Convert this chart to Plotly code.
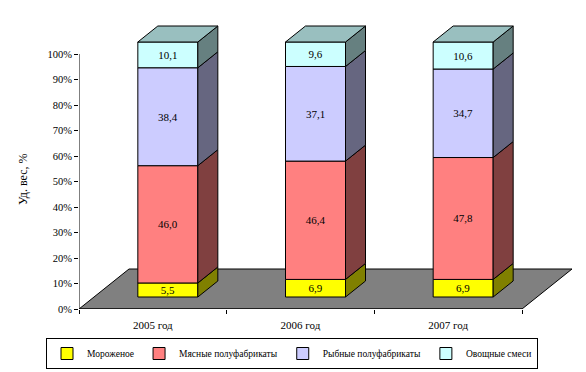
import plotly.graph_objects as go

# ---- data ----
categories = ["2005 год", "2006 год", "2007 год"]
series_names = ["Мороженое", "Мясные полуфабрикаты", "Рыбные полуфабрикаты", "Овощные смеси"]
ice_cream = [5.5, 6.9, 6.9]
meat = [46.0, 46.4, 47.8]
fish = [38.4, 37.1, 34.7]
vegetables = [10.1, 9.6, 10.6]
y_ticks = [0, 10, 20, 30, 40, 50, 60, 70, 80, 90, 100]

series_values = [ice_cream, meat, fish, vegetables]
front_colors = ["#FFFF00", "#FF8080", "#CCCCFF", "#CCFFFF"]
side_colors = ["#808000", "#804040", "#666680", "#668080"]
top_color = "#99BFBF"

SERIF = '"Liberation Serif", "Times New Roman", serif'

# ---- layout geometry (pixels) ----
W, H = 586, 372
M_L, M_R, M_T, M_B = 79, 10, 20, 63
slot_px = (522 - 79) / 3.0          # width of one category slot
pct_px = 2.55                        # pixels per 1 %
plot_w = W - M_L - M_R
plot_h = H - M_T - M_B
x_range = [-0.5, -0.5 + plot_w / slot_px]
y_range = [0, plot_h / pct_px]

# 3D depth (in data units)
depth_dx = 50 / slot_px
depth_dy = 40 / pct_px
front_f, back_f = 0.3, 0.7
bar_w = 60 / slot_px

fx = front_f * depth_dx
fy = front_f * depth_dy
bdx = (back_f - front_f) * depth_dx
bdy = (back_f - front_f) * depth_dy

fig = go.Figure()

n = len(categories)
bottoms = [0.0] * n
side_traces = []
for s, (name, vals) in enumerate(zip(series_names, series_values)):
    xs_front = [i + fx for i in range(n)]
    base = [b + fy for b in bottoms]
    fig.add_trace(go.Bar(
        name=name, x=xs_front, y=vals, base=base, width=bar_w,
        marker=dict(color=front_colors[s], line=dict(color="black", width=1)),
        text=[f"{v:.1f}".replace(".", ",") for v in vals],
        textposition="inside", insidetextanchor="middle", constraintext="none",
        insidetextfont=dict(family=SERIF, size=11, color="black"),
        hoverinfo="skip",
    ))
    # side faces
    px, py = [], []
    for i in range(n):
        xr = i + fx + bar_w / 2
        y0 = bottoms[i] + fy
        y1 = bottoms[i] + vals[i] + fy
        px += [xr, xr + bdx, xr + bdx, xr, xr, None]
        py += [y0, y0 + bdy, y1 + bdy, y1, y0, None]
    side_traces.append(go.Scatter(
        x=px, y=py, mode="lines", fill="toself", fillcolor=side_colors[s],
        line=dict(color="black", width=1), showlegend=False, hoverinfo="skip",
    ))
    bottoms = [b + v for b, v in zip(bottoms, vals)]

for t in side_traces:
    fig.add_trace(t)

# top faces
tx, ty = [], []
for i in range(n):
    xl = i + fx - bar_w / 2
    xr = i + fx + bar_w / 2
    yt = bottoms[i] + fy
    tx += [xl, xr, xr + bdx, xl + bdx, xl, None]
    ty += [yt, yt, yt + bdy, yt + bdy, yt, None]
fig.add_trace(go.Scatter(
    x=tx, y=ty, mode="lines", fill="toself", fillcolor=top_color,
    line=dict(color="black", width=1), showlegend=False, hoverinfo="skip",
))

# floor
x0, x1 = -0.5, n - 0.5
floor_path = (f"M {x0},0 L {x1},0 L {x1 + depth_dx},{depth_dy} "
              f"L {x0 + depth_dx},{depth_dy} Z")
shapes = [
    dict(type="path", path=floor_path, xref="x", yref="y", layer="below",
         fillcolor="#808080", line=dict(color="black", width=1)),
    dict(type="line", xref="x", yref="y", x0=x0, y0=0, x1=x0, y1=100,
         line=dict(color="black", width=1)),
    dict(type="line", xref="x", yref="y", x0=x0, y0=0, x1=x1, y1=0,
         line=dict(color="black", width=1)),
]

fig.update_layout(
    template="none",
    width=W, height=H,
    margin=dict(l=M_L, r=M_R, t=M_T, b=M_B, pad=0, autoexpand=False),
    paper_bgcolor="white", plot_bgcolor="rgba(0,0,0,0)",
    barmode="overlay", bargap=0,
    font=dict(family=SERIF, size=11, color="black"),
    shapes=shapes,
    showlegend=True,
    legend=dict(
        orientation="h", x=(292 - M_L) / plot_w, xanchor="center",
        y=(309 - 353.5) / plot_h, yanchor="middle",
        bordercolor="black", borderwidth=1, bgcolor="white",
        font=dict(family=SERIF, size=9.5, color="black"),
        itemwidth=30, traceorder="normal",
    ),
    annotations=[dict(
        text="Уд. вес, %", textangle=-90, showarrow=False,
        xref="paper", yref="paper",
        x=(23 - M_L) / plot_w, y=(309 - 180) / plot_h,
        xanchor="center", yanchor="middle",
        font=dict(family=SERIF, size=12, color="black"),
    )],
)

fig.update_xaxes(
    range=x_range, showgrid=False, zeroline=False, showline=False,
    tickmode="array", tickvals=list(range(n)), ticktext=categories,
    ticks="", ticklabelstandoff=8,
    tickfont=dict(family=SERIF, size=11, color="black"),
    minor=dict(tickmode="array", tickvals=[i - 0.5 for i in range(n + 1)],
               ticks="outside", ticklen=4, tickcolor="black", showgrid=False),
    fixedrange=True,
)
fig.update_yaxes(
    range=y_range, showgrid=False, zeroline=False, showline=False,
    tickmode="array", tickvals=y_ticks, ticktext=[f"{v}%" for v in y_ticks],
    ticks="outside", ticklen=4, tickcolor="black",
    tickfont=dict(family=SERIF, size=10.5, color="black"),
    fixedrange=True,
)

fig.write_html(
    "out.html",
    config={"displayModeBar": False, "staticPlot": True},
    post_script="document.body.style.margin='0';document.body.style.overflow='hidden';",
)
